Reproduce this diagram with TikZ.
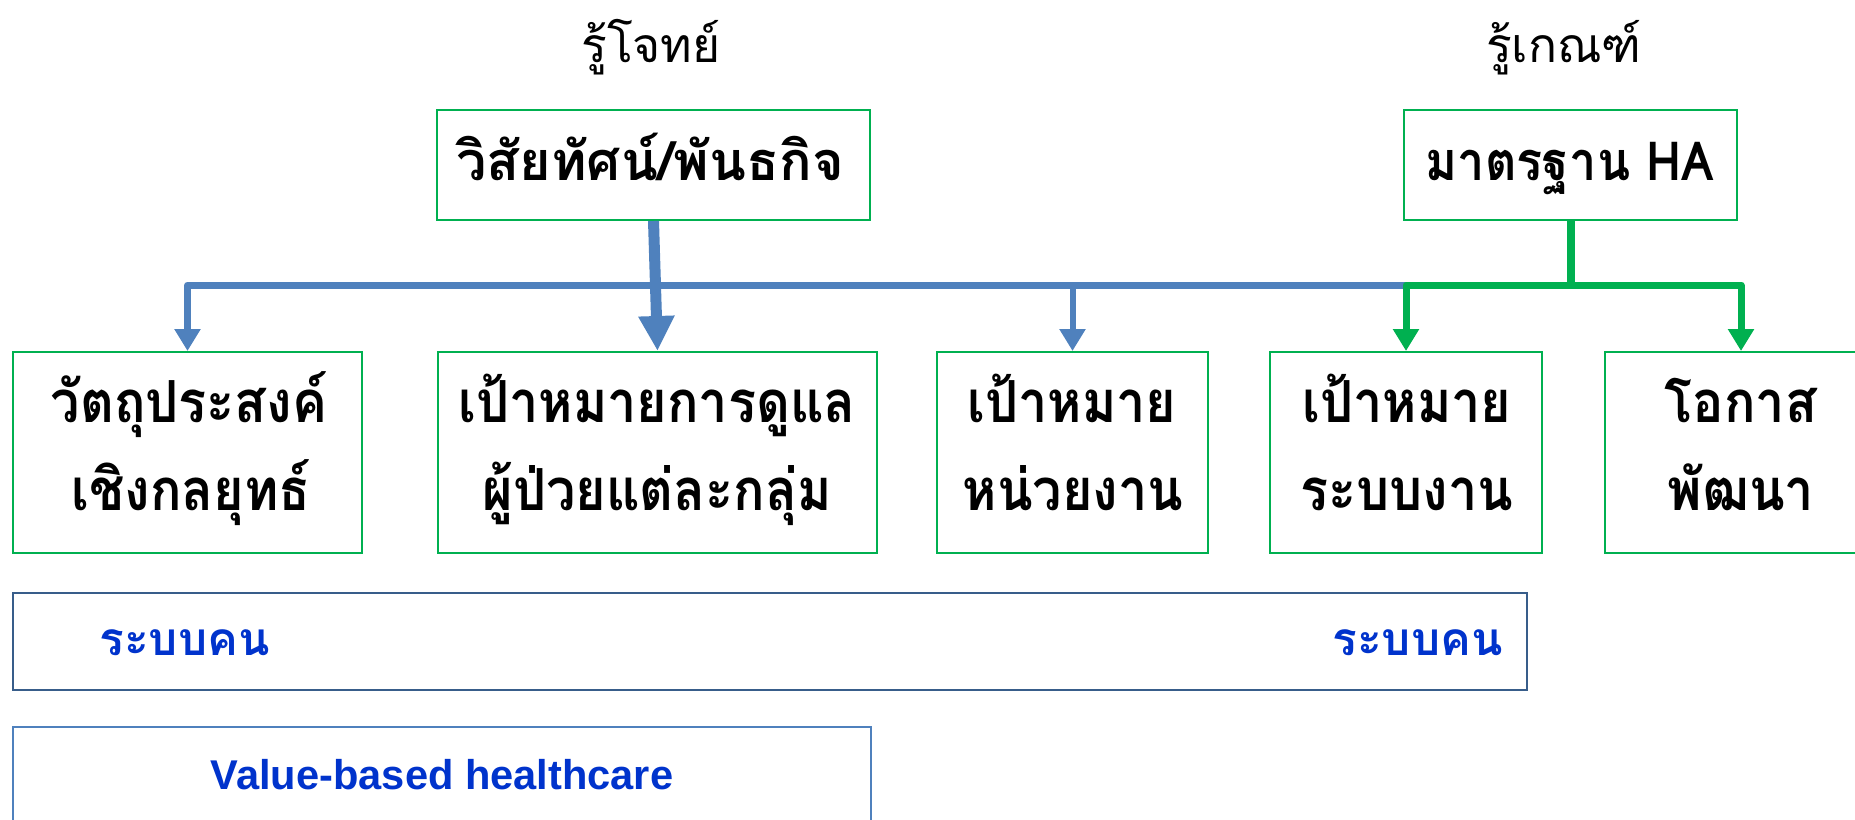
\documentclass[tikz,border=0pt]{standalone}
\usepackage{fontspec}
\setmainfont{Liberation Sans}
\newfontfamily\thai[Script=Thai]{Loma}
\newfontfamily\thaic[Script=Thai,FakeStretch=0.9]{Loma}
\usetikzlibrary{arrows.meta,calc}
\definecolor{bl}{HTML}{4F81BD}
\definecolor{gr}{HTML}{00B050}
\definecolor{tb}{HTML}{0033CC}
\definecolor{db}{HTML}{385D8A}
\begin{document}
\begin{tikzpicture}[x=0.5pt,y=-0.5pt,
  gbox/.style={draw=gr, line width=1pt, inner sep=0pt},
  ttop/.style={anchor=base, inner sep=0pt, font=\thai\bfseries\fontsize{27}{30}\selectfont},
  tline/.style={anchor=base, inner sep=0pt, font=\thaic\bfseries\fontsize{29}{32}\selectfont},
  toplabel/.style={anchor=base, inner sep=0pt, font=\thai\fontsize{24}{28}\selectfont},
  smalltip/.style={-{Triangle[width=12.5pt,length=11pt]}},
  bluetext/.style={text=tb, inner sep=0pt, font=\thai\bfseries\fontsize{23}{26}\selectfont}
]
\useasboundingbox (0,0) rectangle (1855,819);
\clip (0,0) rectangle (1855,819);
% top labels
\node[toplabel] (l1) at (651,62) {รู้โจทย์};
\node[toplabel] (l2) at (1564,62) {รู้เกณฑ์};
% top boxes
\node[gbox, minimum width=216.5pt, minimum height=55pt] (vis) at (653.5,165) {};
\node[ttop] (vist) at (650,180) {วิสัยทัศน์/พันธกิจ};
\node[gbox, minimum width=166.5pt, minimum height=55pt] (ha) at (1570.5,165) {};
\node[tline, font=\thaic\bfseries\fontsize{27}{30}\selectfont] (hat) at (1570,180) {มาตรฐาน HA};
% lower boxes
\node[gbox, minimum width=174.5pt, minimum height=100.5pt] (b1) at (187.5,452.5) {};
\node[gbox, minimum width=219.5pt, minimum height=100.5pt] (b2) at (657.5,452.5) {};
\node[gbox, minimum width=135.5pt, minimum height=100.5pt] (b3) at (1072.5,452.5) {};
\node[gbox, minimum width=136pt, minimum height=100.5pt] (b4) at (1406,452.5) {};
\node[gbox, minimum width=136pt, minimum height=100.5pt] (b5) at (1741,452.5) {};
\node[tline] (b1a) at (189,422) {วัตถุประสงค์};
\node[tline] (b1b) at (191,510) {เชิงกลยุทธ์};
\node[tline] (b2a) at (657,422) {เป้าหมายการดูแล};
\node[tline] (b2b) at (657,510) {ผู้ป่วยแต่ละกลุ่ม};
\node[tline] (b3a) at (1072,422) {เป้าหมาย};
\node[tline] (b3b) at (1073,510) {หน่วยงาน};
\node[tline] (b4a) at (1407,422) {เป้าหมาย};
\node[tline] (b4b) at (1407,510) {ระบบงาน};
\node[tline] (b5a) at (1741,422) {โอกาส};
\node[tline] (b5b) at (1741,510) {พัฒนา};
\coordinate (busy) at (0,285);
% blue connectors
\draw[bl, line width=3.5pt, line join=round, smalltip] (b4.north |- busy) -| (b1.north);
\draw[bl, line width=3pt, smalltip] (b3.north |- busy) -- (b3.north);
\draw[bl, line width=5.5pt, -{Triangle[width=17pt,length=17.5pt]}] (vis.south) -- (b2.north);
% green connectors
\draw[gr, line width=4pt] (ha.south) -- (ha.south |- busy);
\draw[gr, line width=3.5pt, line join=round, {Triangle[width=12.5pt,length=11pt]}-{Triangle[width=12.5pt,length=11pt]}] (b4.north) |- (busy -| b5.north) -- (b5.north);
% bottom boxes
\node[draw=db, line width=1.3pt, minimum width=757pt, minimum height=48.5pt, inner sep=0pt] (rk) at (770,641.5) {};
\node[bluetext, anchor=west] (rk1) at (99,643) {ระบบคน};
\node[bluetext, anchor=east] (rk2) at (1503,643) {ระบบคน};
\node[draw=bl, line width=0.8pt, minimum width=429pt, minimum height=48pt, inner sep=0pt,
  text=tb, font=\bfseries\fontsize{20.8}{24}\selectfont] (vb) at (442,775) {Value-based healthcare};
\end{tikzpicture}
\end{document}
